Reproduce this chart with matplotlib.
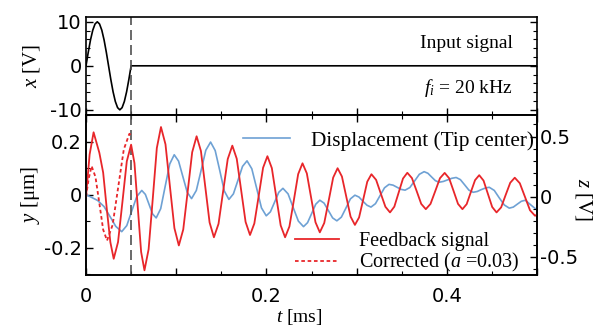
import matplotlib
matplotlib.use("Agg")
import matplotlib.pyplot as plt
from matplotlib.ticker import MultipleLocator, FuncFormatter

plt.rcParams['font.family'] = 'Liberation Serif'
plt.rcParams['mathtext.fontset'] = 'custom'
plt.rcParams['mathtext.it'] = 'Liberation Serif:italic'
plt.rcParams['mathtext.rm'] = 'Liberation Serif'
plt.rcParams['axes.unicode_minus'] = False

# input burst, one cycle at 20 kHz [ms, V]
t_in = [0.0, 0.0025, 0.005, 0.0075, 0.01, 0.0125, 0.015, 0.0175, 0.02, 0.0225,
        0.025, 0.0275, 0.03, 0.0325, 0.035, 0.0375, 0.04, 0.0425, 0.045, 0.0475,
        0.05, 0.5]
x_in = [0.0, 3.1, 5.9, 8.1, 9.5, 10.0, 9.5, 8.1, 5.9, 3.1,
        0.0, -3.1, -5.9, -8.1, -9.5, -10.0, -9.5, -8.1, -5.9, -3.1,
        0.0, 0.0]

# tip centre displacement [ms, um]
t_disp = [0.0, 0.006, 0.0129, 0.02, 0.027, 0.033, 0.0396, 0.0452, 0.0507, 0.0563,
          0.0618, 0.0658, 0.0698, 0.0738, 0.0778, 0.0828, 0.0878, 0.0928, 0.0978,
          0.1026, 0.1074, 0.1122, 0.117, 0.1223, 0.1276, 0.1328, 0.1381, 0.1432,
          0.1483, 0.1533, 0.1584, 0.1634, 0.1685, 0.1735, 0.1785, 0.1838, 0.1892,
          0.1945, 0.1998, 0.2044, 0.2091, 0.2137, 0.2183, 0.224, 0.2297, 0.2354,
          0.2411, 0.2456, 0.2502, 0.2547, 0.2592, 0.2639, 0.2687, 0.2734, 0.2781,
          0.2831, 0.2881, 0.2931, 0.2981, 0.3026, 0.307, 0.3115, 0.3159, 0.3209,
          0.3259, 0.3309, 0.3359, 0.3404, 0.3448, 0.3493, 0.3537, 0.359, 0.3643,
          0.3695, 0.3748, 0.379, 0.3831, 0.3873, 0.3914, 0.3961, 0.4009, 0.4056,
          0.4103, 0.415, 0.4198, 0.4245, 0.4292, 0.4337, 0.4381, 0.4426, 0.447,
          0.4526, 0.4581, 0.4637, 0.4692, 0.4737, 0.4781, 0.4826, 0.487, 0.4935,
          0.5]
y_disp = [0.0, -0.01, -0.022, -0.045, -0.085, -0.12, -0.14, -0.117, -0.062, -0.007,
          0.016, 0.001, -0.036, -0.073, -0.088, -0.053, 0.032, 0.116, 0.151,
          0.127, 0.068, 0.009, -0.015, 0.016, 0.092, 0.168, 0.199, 0.167,
          0.091, 0.014, -0.018, 0.003, 0.055, 0.107, 0.128, 0.098, 0.024,
          -0.05, -0.08, -0.065, -0.028, 0.009, 0.024, 0.003, -0.049, -0.1,
          -0.121, -0.106, -0.071, -0.036, -0.021, -0.032, -0.06, -0.088, -0.099,
          -0.085, -0.051, -0.016, -0.002, -0.009, -0.025, -0.04, -0.047, -0.034,
          -0.004, 0.026, 0.039, 0.036, 0.028, 0.02, 0.017, 0.027, 0.052,
          0.077, 0.087, 0.081, 0.067, 0.053, 0.047, 0.05, 0.056, 0.062,
          0.065, 0.057, 0.037, 0.017, 0.009, 0.012, 0.019, 0.025, 0.028,
          0.016, -0.012, -0.039, -0.051, -0.047, -0.036, -0.025, -0.021, -0.04,
          -0.058]

# feedback signal [ms, V]
t_fb = [0.0, 0.004, 0.0084, 0.0148, 0.019, 0.023, 0.027, 0.0307, 0.0355, 0.0404,
        0.0452, 0.05, 0.0537, 0.0574, 0.0611, 0.0648, 0.0694, 0.074, 0.0785,
        0.0831, 0.0881, 0.093, 0.098, 0.1029, 0.1078, 0.1128, 0.1177, 0.1226,
        0.1274, 0.1322, 0.137, 0.1418, 0.1469, 0.152, 0.1571, 0.1622, 0.1671,
        0.172, 0.1769, 0.1818, 0.1866, 0.1915, 0.1963, 0.2011, 0.206, 0.2109,
        0.2158, 0.2207, 0.2255, 0.2304, 0.2352, 0.24, 0.2448, 0.2496, 0.2544,
        0.2592, 0.2641, 0.2691, 0.274, 0.2789, 0.2837, 0.2885, 0.2933, 0.2981,
        0.3027, 0.3073, 0.3118, 0.3164, 0.3216, 0.3267, 0.3319, 0.337, 0.3418,
        0.3466, 0.3514, 0.3562, 0.3613, 0.3665, 0.3716, 0.3767, 0.3819, 0.3872,
        0.3924, 0.3976, 0.4025, 0.4075, 0.4124, 0.4173, 0.422, 0.4266, 0.4313,
        0.4359, 0.4407, 0.4455, 0.4503, 0.4551, 0.4602, 0.4652, 0.4703, 0.4753,
        0.4809, 0.4866, 0.4922, 0.4978, 0.5]
z_fb = [0.0, 0.35, 0.535, 0.364, 0.2, -0.1, -0.38, -0.518, -0.379, -0.043,
        0.293, 0.432, 0.279, -0.091, -0.461, -0.614, -0.439, -0.018, 0.404,
        0.579, 0.435, 0.086, -0.263, -0.407, -0.274, 0.048, 0.369, 0.502,
        0.379, 0.082, -0.216, -0.339, -0.227, 0.043, 0.312, 0.424, 0.315,
        0.052, -0.211, -0.32, -0.224, 0.008, 0.24, 0.336, 0.237, -0.002,
        -0.24, -0.339, -0.249, -0.031, 0.187, 0.277, 0.193, -0.011, -0.214,
        -0.298, -0.22, -0.031, 0.158, 0.236, 0.167, 0.0, -0.167, -0.236,
        -0.174, -0.025, 0.124, 0.186, 0.139, 0.027, -0.085, -0.132, -0.084,
        0.033, 0.15, 0.198, 0.154, 0.047, -0.061, -0.105, -0.061, 0.046,
        0.153, 0.197, 0.153, 0.046, -0.061, -0.105, -0.063, 0.037, 0.137,
        0.178, 0.133, 0.023, -0.087, -0.132, -0.09, 0.013, 0.115, 0.157,
        0.111, -0.002, -0.114, -0.16, -0.15]

# corrected feedback (a = 0.03), only during the burst
t_corr = [0.0, 0.003, 0.0062, 0.0105, 0.0148, 0.019, 0.0233, 0.0295, 0.0357,
          0.0419, 0.0481, 0.05]
z_corr = [0.0, 0.15, 0.254, 0.163, -0.056, -0.275, -0.366, -0.236, 0.079,
          0.393, 0.523, 0.51]

red = '#e8262a'
blue = '#6ea1d4'
tick_font = 'DejaVu Sans'

fig = plt.figure(figsize=(5.94, 3.28), dpi=100)
ax_top = fig.add_axes([0.1448, 0.649, 0.7593, 0.298])
ax_bot = fig.add_axes([0.1448, 0.1616, 0.7593, 0.4874])
ax_z = ax_bot.twinx()

g = FuncFormatter(lambda v, p: '%g' % round(v, 3))

# top: input signal
ax_top.plot(t_in, x_in, color='black', lw=1.2)
ax_top.axvline(0.05, color='#505050', lw=1.2, dashes=(6, 3))
ax_top.set_xlim(0, 0.5)
ax_top.set_ylim(-11.2, 11.0)
ax_top.xaxis.set_major_locator(MultipleLocator(0.1))
ax_top.xaxis.set_minor_locator(MultipleLocator(0.05))
ax_top.yaxis.set_major_locator(MultipleLocator(10))
ax_top.yaxis.set_minor_locator(MultipleLocator(2))
ax_top.yaxis.set_major_formatter(g)
ax_top.tick_params(which='both', direction='in', left=True, right=True,
                   bottom=True, top=False, labelbottom=False,
                   labelsize=14, labelfontfamily=tick_font, pad=3)
ax_top.tick_params(which='major', length=5, width=1)
ax_top.tick_params(which='minor', length=3, width=0.8)
ax_top.set_ylabel('$x$ [V]', fontsize=15)
ax_top.yaxis.set_label_coords(-0.098, 0.5)
ax_top.text(0.947, 0.737, 'Input signal', transform=ax_top.transAxes,
            ha='right', va='center', fontsize=14)
ax_top.text(0.947, 0.276, '$f_i$ = 20 kHz', transform=ax_top.transAxes,
            ha='right', va='center', fontsize=14)

# bottom: displacement (left) and feedback (right)
l_disp, = ax_bot.plot(t_disp, y_disp, color=blue, lw=1.2)
ax_bot.axvline(0.05, color='#505050', lw=1.2, dashes=(6, 3))
ax_bot.set_xlim(0, 0.5)
ax_bot.set_ylim(-0.304, 0.301)
ax_bot.xaxis.set_major_locator(MultipleLocator(0.1))
ax_bot.xaxis.set_minor_locator(MultipleLocator(0.05))
ax_bot.xaxis.set_major_formatter(
    FuncFormatter(lambda v, p: '%g' % round(v, 3) if round(v * 10) % 2 == 0 and v < 0.45 else ''))
ax_bot.yaxis.set_major_locator(MultipleLocator(0.2))
ax_bot.yaxis.set_minor_locator(MultipleLocator(0.1))
ax_bot.yaxis.set_major_formatter(g)
ax_bot.tick_params(which='both', direction='in', left=True, right=False,
                   bottom=True, top=True, labelsize=14,
                   labelfontfamily=tick_font)
ax_bot.tick_params(axis='y', pad=3)
ax_bot.tick_params(axis='x', pad=9)
ax_bot.tick_params(which='major', length=5, width=1)
ax_bot.tick_params(which='minor', length=3, width=0.8)
ax_bot.set_ylabel('$y$ [μm]', fontsize=15)
ax_bot.yaxis.set_label_coords(-0.098, 0.5)
ax_bot.set_xlabel('$t$ [ms]', fontsize=14)
ax_bot.xaxis.set_label_coords(0.472, -0.2)

l_fb, = ax_z.plot(t_fb, z_fb, color=red, lw=1.3)
l_corr, = ax_z.plot(t_corr, z_corr, color=red, lw=1.3, ls=(0, (2, 1.5)))
ax_z.set_ylim(-0.653, 0.678)
ax_z.yaxis.set_major_locator(MultipleLocator(0.5))
ax_z.yaxis.set_minor_locator(MultipleLocator(0.1))
ax_z.yaxis.set_major_formatter(g)
ax_z.tick_params(which='both', direction='in', right=True, labelsize=14,
                 labelfontfamily=tick_font, pad=2)
ax_z.tick_params(which='major', length=5, width=1)
ax_z.tick_params(which='minor', length=3, width=0.8)
ax_z.set_ylabel('$z$ [V]', fontsize=15, rotation=270, va='bottom')
ax_z.yaxis.set_label_coords(1.08, 0.47)

for ax in (ax_top, ax_bot, ax_z):
    for s in ax.spines.values():
        s.set_linewidth(1.2)

leg1 = ax_z.legend([l_disp], ['Displacement (Tip center)'], loc='center left',
                   bbox_to_anchor=(0.348, 0.839), frameon=False, borderpad=0,
                   borderaxespad=0, handlelength=2.2, handletextpad=1.0,
                   fontsize=15.3)
ax_z.add_artist(leg1)
ax_z.legend([l_fb, l_corr], ['Feedback signal', 'Corrected ($a$ =0.03)'],
            loc='center left', bbox_to_anchor=(0.463, 0.135), frameon=False,
            borderpad=0, borderaxespad=0, handlelength=2.2, handletextpad=1.0,
            labelspacing=0.0, fontsize=14.5)

fig.savefig('out.png', dpi=100)
